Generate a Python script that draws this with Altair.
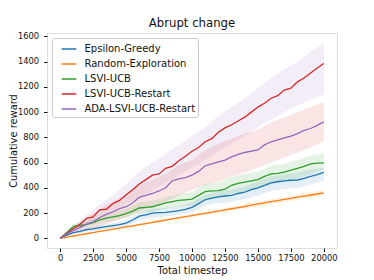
import altair as alt
import pandas as pd

# ---------------- data ----------------
steps = [i * 500 for i in range(41)]

eps_greedy = [0, 25, 45, 55, 68, 75, 85, 92, 100, 108, 120, 145, 175, 185, 200, 203, 205, 212, 220, 230,
              245, 275, 305, 318, 328, 335, 340, 355, 365, 385, 400, 420, 440, 448, 455, 460, 462, 475, 490, 505, 522]
random_expl = [0, 9, 18, 27, 36, 45, 54, 63, 72, 81, 90, 99, 108, 117, 126, 135, 144, 153, 162, 171,
               180, 189, 198, 207, 216, 225, 234, 243, 252, 262, 272, 281, 290, 299, 308, 317, 326, 334, 343, 351, 360]
lsvi_ucb = [0, 45, 95, 100, 110, 125, 145, 160, 170, 180, 195, 215, 240, 245, 250, 265, 280, 290, 300, 305,
            310, 340, 370, 375, 378, 390, 420, 435, 445, 455, 465, 490, 510, 515, 525, 540, 555, 570, 590, 595, 598]
lsvi_restart = [0, 40, 75, 110, 158, 170, 225, 230, 275, 300, 345, 385, 430, 465, 500, 510, 555, 570, 615, 650,
                690, 720, 765, 790, 840, 875, 900, 930, 960, 1000, 1040, 1070, 1110, 1130, 1175, 1190, 1240, 1270, 1310, 1350, 1385]
ada_restart = [0, 35, 62, 85, 112, 130, 165, 190, 210, 235, 250, 280, 325, 340, 355, 375, 400, 455, 470, 480,
               500, 530, 575, 590, 605, 620, 645, 665, 680, 690, 700, 740, 765, 780, 795, 810, 830, 855, 870, 895, 922]

band_steps = [i * 1000 for i in range(21)]
eps_lo = [0, 30, 50, 65, 80, 95, 145, 165, 170, 185, 205, 260, 280, 290, 310, 340, 375, 390, 400, 425, 460]
eps_hi = [0, 60, 85, 105, 120, 145, 205, 235, 240, 255, 285, 345, 370, 385, 410, 450, 490, 505, 520, 545, 560]
rnd_lo = [0, 15, 32, 49, 66, 83, 100, 117, 134, 151, 168, 185, 202, 219, 236, 254, 271, 288, 305, 321, 337]
rnd_hi = [0, 21, 40, 59, 78, 97, 116, 135, 154, 173, 192, 211, 230, 249, 268, 290, 309, 328, 347, 365, 383]
ucb_lo = [0, 70, 90, 115, 140, 160, 200, 210, 235, 250, 260, 310, 320, 350, 370, 390, 430, 450, 475, 510, 545]
ucb_hi = [0, 115, 135, 170, 200, 235, 285, 300, 325, 350, 365, 430, 445, 485, 510, 530, 575, 590, 620, 655, 672]
rst_lo = [0, 60, 120, 170, 220, 270, 320, 380, 440, 500, 560, 620, 690, 750, 810, 880, 940, 1000, 1050, 1100, 1140]
rst_hi = [0, 95, 185, 270, 345, 430, 530, 600, 670, 740, 810, 880, 970, 1040, 1110, 1190, 1270, 1340, 1400, 1480, 1545]
ada_lo = [0, 35, 60, 95, 130, 165, 210, 250, 290, 340, 385, 420, 450, 490, 520, 560, 600, 640, 680, 720, 770]
ada_hi = [0, 90, 165, 235, 290, 345, 420, 465, 510, 580, 620, 700, 750, 790, 830, 860, 920, 960, 1000, 1040, 1080]

x_ticks = [0, 2500, 5000, 7500, 10000, 12500, 15000, 17500, 20000]
y_ticks = [0, 200, 400, 600, 800, 1000, 1200, 1400, 1600]

names = ["Epsilon-Greedy", "Random-Exploration", "LSVI-UCB", "LSVI-UCB-Restart", "ADA-LSVI-UCB-Restart"]
colors = ["#1f77b4", "#ff7f0e", "#2ca02c", "#d62728", "#9467bd"]

# ---------------- tables ----------------
line_rows = []
for k, (name, vals) in enumerate(zip(names, [eps_greedy, random_expl, lsvi_ucb, lsvi_restart, ada_restart])):
    for s, v in zip(steps, vals):
        line_rows.append({"step": s, "reward": v, "series": name, "order": k})
lines_df = pd.DataFrame(line_rows)

# shaded bands: the band around LSVI-UCB-Restart is purple and the one around ADA is red, as in the original
band_defs = [
    ("Epsilon-Greedy", eps_lo, eps_hi),
    ("Random-Exploration", rnd_lo, rnd_hi),
    ("LSVI-UCB", ucb_lo, ucb_hi),
    ("ADA-LSVI-UCB-Restart", rst_lo, rst_hi),
    ("LSVI-UCB-Restart", ada_lo, ada_hi),
]
band_rows = []
for k, (name, lo, hi) in enumerate(band_defs):
    for s, a, b in zip(band_steps, lo, hi):
        band_rows.append({"step": s, "lo": a, "hi": b, "bandcolor": name, "band": k})
bands_df = pd.DataFrame(band_rows)

FONT = "DejaVu Sans"
xscale = alt.Scale(domain=[-1000, 21000], nice=False, zero=False)
yscale = alt.Scale(domain=[-77, 1627], nice=False, zero=False)


def make_xaxis():
    return alt.Axis(values=x_ticks, format="d",
                    title="Total timestep", grid=False, tickSize=3.5, labelPadding=2,
                    labelFontSize=8.3, titleFontSize=9.9, titleFontWeight="normal",
                    labelFont=FONT, titleFont=FONT, labelColor="#111", titleColor="#111",
                    tickColor="#111", domain=False, titleY=25.6, titleBaseline="alphabetic",
                    labelFlush=False, labelOverlap=False)


def make_yaxis():
    return alt.Axis(values=y_ticks, format="d",
                    title="Cumulative reward", grid=False, tickSize=3.5, labelPadding=5,
                    labelFontSize=8.3, titleFontSize=9.9, titleFontWeight="normal",
                    labelFont=FONT, titleFont=FONT, labelColor="#111", titleColor="#111",
                    tickColor="#111", domain=False, titleX=-31, titleBaseline="alphabetic",
                    labelFlush=False, labelOverlap=False)


bands = alt.Chart(bands_df).mark_area(opacity=0.12, strokeWidth=0).encode(
    x=alt.X("step:Q", scale=xscale, axis=make_xaxis()),
    y=alt.Y("lo:Q", scale=yscale, axis=make_yaxis()),
    y2="hi:Q",
    color=alt.Color("bandcolor:N", scale=alt.Scale(domain=names, range=colors), legend=None),
    detail="band:N",
)

lines = alt.Chart(lines_df).mark_line(strokeWidth=1.3).encode(
    x=alt.X("step:Q", scale=xscale, axis=make_xaxis()),
    y=alt.Y("reward:Q", scale=yscale, axis=make_yaxis()),
    color=alt.Color("series:N", scale=alt.Scale(domain=names, range=colors), sort=names,
                    legend=alt.Legend(title=None, orient="none", legendX=5, legendY=5,
                                      symbolType="stroke", symbolSize=215, symbolStrokeWidth=1.5,
                                      symbolOffset=6,
                                      labelFontSize=10, labelFont=FONT, labelColor="#111",
                                      rowPadding=1, labelOffset=7, padding=2.5,
                                      fillColor="white", strokeColor="#cccccc",
                                      cornerRadius=2, labelLimit=300)),
    order="order:Q",
)

chart = alt.layer(bands, lines).resolve_scale(color="independent").properties(
    width=290, height=215,
    title=alt.TitleParams("Abrupt change", fontSize=11.7, font=FONT, fontWeight="normal",
                          color="#111", anchor="middle", offset=5, baseline="alphabetic", dy=12.5),
    autosize=alt.AutoSizeParams(type="none"),
    padding={"left": 39, "top": 25, "right": 20, "bottom": 32},
).configure_view(stroke="#222", strokeWidth=1).configure(background="white")

chart.save("out.html", embed_options={"renderer": "svg", "actions": False})
